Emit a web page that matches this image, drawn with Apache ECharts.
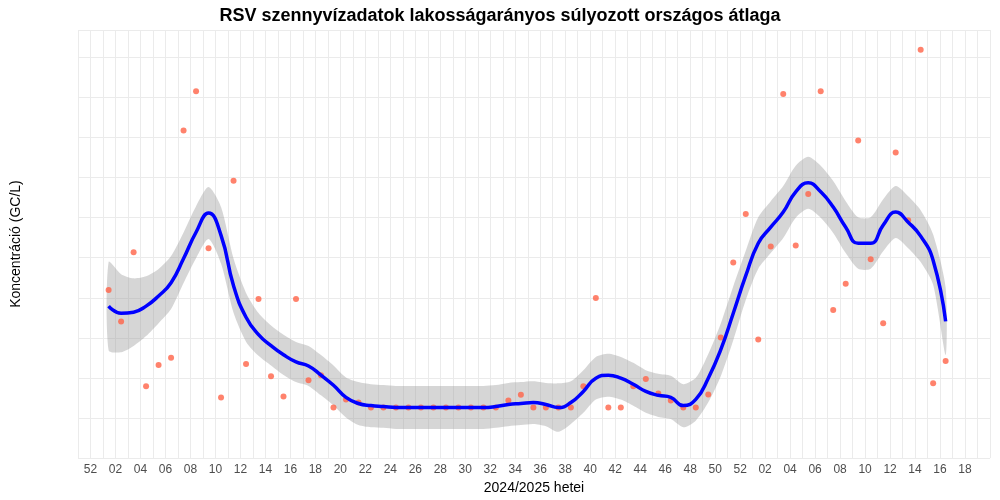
<!DOCTYPE html>
<html><head><meta charset="utf-8">
<script src="https://cdn.jsdelivr.net/npm/echarts@6/dist/echarts.min.js"></script>
<style>html,body{margin:0;padding:0;background:#fff}#c{width:1000px;height:500px}</style>
</head><body><div id="c"></div>
<script>
// week labels: index 0 = 2023 w52, 1..52 = 2024, 53..70 = 2025 w1..18
const weekLabels = ['52'];
for (let w = 1; w <= 52; w++) weekLabels.push(String(w).padStart(2,'0'));
for (let w = 1; w <= 18; w++) weekLabels.push(String(w).padStart(2,'0'));
const yTicks = [1500, 4000, 10000];
const pointStart = 1.45; // first observation position (week index)
const observed = [3380,2790,4240,1876,2137,2232,8510,10650,4340,1752,6380,2150,3200,1996,1762,3200,1947,2008,1647,1731,1698,1647,1647,1647,1647,1647,1647,1647,1647,1647,1647,1647,1720,1780,1647,1647,1647,1647,1876,3220,1647,1647,1876,1960,1796,1720,1647,1647,1785,2527,4000,5275,2496,4385,10470,4410,5920,10650,2990,3511,8030,4075,2757,7495,5095,13500,1911,2190];
const smooth = [3063,2933,2952,3063,3260,3534,4093,4755,5305,4672,3468,2861,2574,2405,2274,2177,2124,2008,1887,1752,1688,1667,1657,1647,1647,1647,1647,1647,1647,1647,1647,1657,1678,1688,1698,1678,1647,1698,1818,1971,2008,1971,1899,1818,1775,1752,1667,1731,1971,2346,2933,3690,4465,4895,5335,5990,6305,5990,5490,4895,4465,4465,4950,5335,5035,4650,4046,2790];
const upper = [4010,3725,3630,3675,3845,4150,4750,5515,6155,5490,4090,3320,2935,2720,2570,2460,2400,2270,2130,1980,1925,1900,1890,1880,1880,1880,1880,1880,1880,1880,1880,1890,1915,1925,1935,1915,1910,1935,2070,2245,2290,2245,2165,2070,2025,2000,1900,1975,2285,2755,3460,4280,5180,5680,6190,6950,7315,6950,6370,5680,5180,5180,5740,6190,5840,5395,4695,3430];
const lower = [2340,2310,2400,2550,2760,3010,3530,4100,4575,3975,2940,2465,2260,2130,2010,1925,1880,1775,1670,1550,1480,1460,1455,1445,1445,1445,1445,1445,1445,1445,1445,1455,1470,1480,1490,1470,1420,1490,1595,1730,1760,1730,1665,1595,1555,1535,1460,1520,1700,1995,2485,3180,3850,4220,4600,5165,5435,5165,4735,4220,3850,3850,4265,4600,4340,4010,3490,2270];

function t(v){ return v <= 4000 ? Math.log(v/1500)/Math.log(4000/1500) : 1 + Math.log(v/4000)/Math.log(2.5); }
const xs = observed.map((_, k) => pointStart + k);
const pts = observed.map((v, k) => [xs[k], t(v)]);
const line = smooth.map((v, k) => [xs[k], t(v)]);

const chart = echarts.init(document.getElementById('c'));
chart.setOption({
  animation: false,
  title: { text: 'RSV szennyvízadatok lakosságarányos súlyozott országos átlaga', left: 'center', top: 2,
    textStyle: { fontFamily: 'Liberation Sans, Arial', fontSize: 18, fontWeight: 'bold', color: '#000' } },
  grid: { left: 78, right: 10, top: 30, bottom: 40 },
  xAxis: { type: 'value', min: -1, max: 72, interval: 1,
    name: '2024/2025 hetei', nameLocation: 'middle', nameGap: 20,
    nameTextStyle: { fontFamily: 'Liberation Sans, Arial', fontSize: 14, color: '#000' },
    axisLine: { show: false }, axisTick: { show: false },
    axisLabel: { color: '#4d4d4d', fontFamily: 'Liberation Sans, Arial', fontSize: 12, margin: 6,
      formatter: v => (v >= 0 && v <= 70 && v % 2 === 0) ? weekLabels[v] : '' },
    splitLine: { lineStyle: { color: '#ebebeb', width: 1 } } },
  yAxis: { type: 'value', min: -0.22, max: 2.45, interval: 0.25,
    name: 'Koncentráció (GC/L)', nameLocation: 'middle', nameGap: 55,
    nameTextStyle: { fontFamily: 'Liberation Sans, Arial', fontSize: 14, color: '#000' },
    axisLine: { show: false }, axisTick: { show: false },
    axisLabel: { color: '#4d4d4d', fontFamily: 'Liberation Sans, Arial', fontSize: 12,
      formatter: v => { const i = Math.round(v*4); return (Math.abs(v*4 - i) < 1e-6 && i % 4 === 0 && i >= 0) ? String(yTicks[i/4]) : ''; } },
    splitLine: { lineStyle: { color: '#ebebeb', width: 1 } } },
  series: [
    { type: 'custom', silent: true, z: 2, data: [0],
      renderItem: (params, api) => {
        const top = upper.map((v, k) => api.coord([xs[k], t(v)]));
        const bot = lower.map((v, k) => api.coord([xs[k], t(v)])).reverse();
        return { type: 'polygon', shape: { points: top.concat(bot), smooth: 0.25 },
          style: { fill: 'rgba(153,153,153,0.4)' } };
      } },
    { type: 'line', data: line, smooth: true, symbol: 'none', lineStyle: { color: '#0000ff', width: 3.5 }, z: 5 },
    { type: 'scatter', data: pts, symbolSize: 6, itemStyle: { color: '#ff6347' }, z: 4 }
  ]
});
</script></body></html>
